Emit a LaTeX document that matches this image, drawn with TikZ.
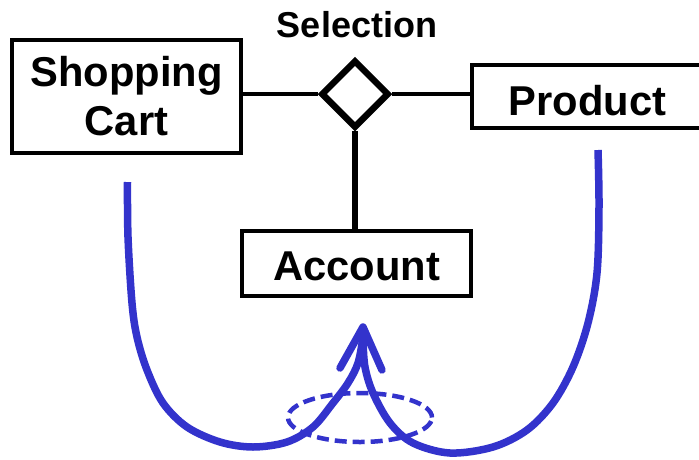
\documentclass[tikz,border=0pt]{standalone}
\usepackage{fontspec}
\setmainfont{Liberation Sans}
\usetikzlibrary{shapes.geometric}
\definecolor{flow}{RGB}{51,51,204}
\begin{document}
\begin{tikzpicture}[x=1pt,y=-1pt,
  entity/.style={draw, line width=4.5pt, inner sep=0pt, font=\bfseries\fontsize{41.7}{49}\selectfont},
  rel/.style={draw, shape=diamond, line width=6.5pt, inner sep=0pt, minimum width=68pt, minimum height=68pt},
  link/.style={line width=4.5pt},
  flowline/.style={flow, line width=7.5pt},
  ring/.style={flow, line width=4.5pt, dash pattern=on 12pt off 6pt}]
\useasboundingbox (0,0) rectangle (699,459);
\node[entity, minimum width=229pt, minimum height=113pt, align=center] (cart) at (126.5,96.5) {Shopping\\Cart};
\node[entity, minimum width=231pt, minimum height=63pt, text height=37pt, text depth=0pt] (prod) at (587.5,96.5) {Product};
\node[entity, minimum width=229pt, minimum height=65pt, text height=33pt, text depth=0pt] (acct) at (356.5,263.5) {Account};
\node[rel] (sel) at (355,94) {};
\node[font=\bfseries\fontsize{36}{40}\selectfont, anchor=base] (sellabel) at (357,37) {Selection};
\draw[link] (sel.west) -- (sel.west -| cart.east);
\draw[link] (sel.east) -- (sel.east -| prod.west);
\draw[line width=6.5pt] (sel.south) -- (sel.south |- acct.north);
\coordinate (tip) at (363,327);
\draw[flowline] plot[smooth, tension=0.55] coordinates {(127.5,182) (128,237) (132,303) (137,337) (147,370) (163,403) (187,427) (220,442) (253,447) (287,442) (313,427) (333,403) (348,383) (358,363) (363,337) (363,330)};
\draw[flowline] plot[smooth, tension=0.55] coordinates {(598,150) (599,207) (597,273) (588,323) (573,367) (553,403) (527,430) (493,447) (450,453) (413,443) (390,423) (373,393) (365,367) (363,340) (363,330)};
\draw[flowline, line cap=round, line join=round] ([shift={(-23,41)}]tip) -- (tip) -- ([shift={(19,43)}]tip);
\draw[ring] (360,417.5) ellipse [x radius=72pt, y radius=24.5pt];
\end{tikzpicture}
\end{document}
